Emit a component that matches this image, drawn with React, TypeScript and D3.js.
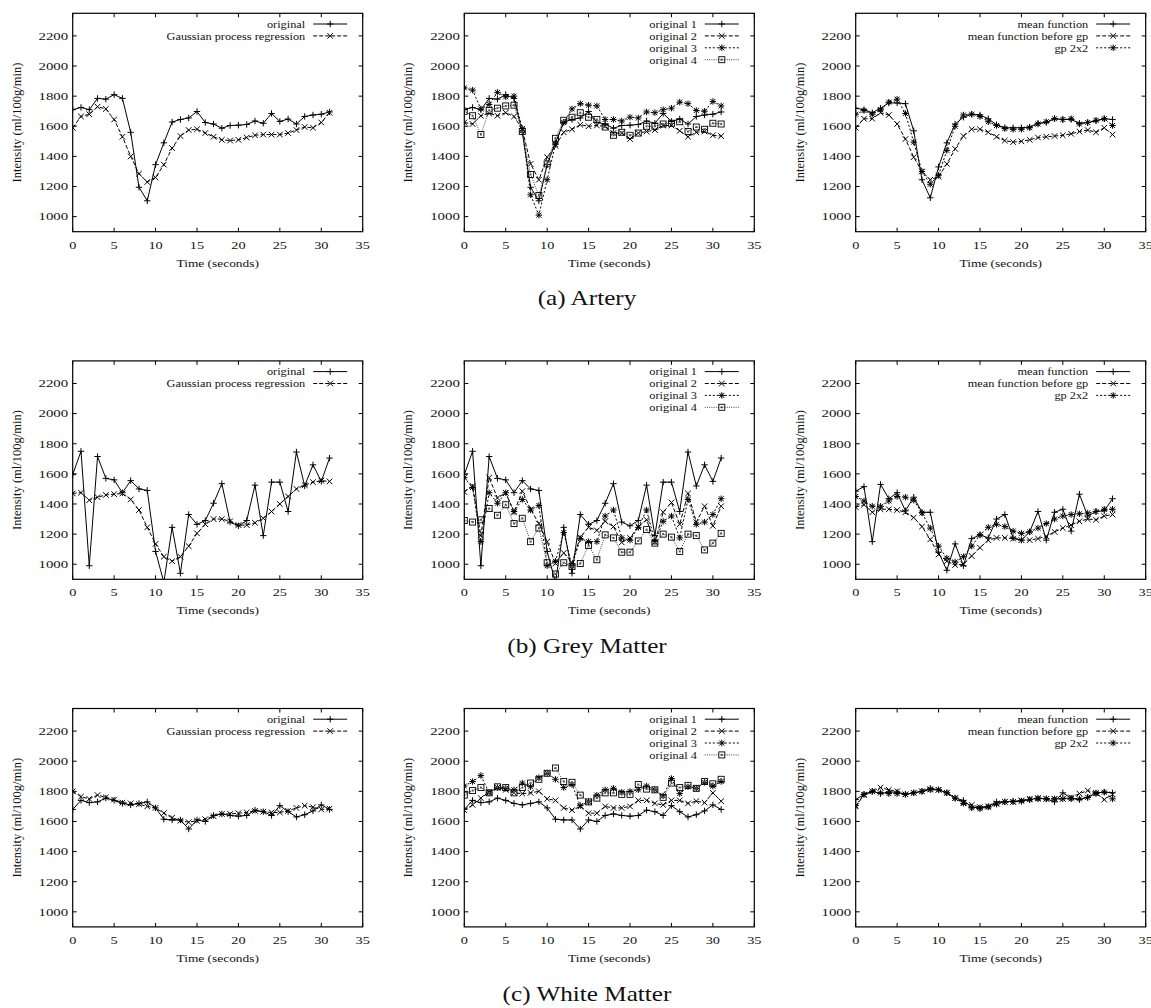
import * as d3 from "d3";

// seconds
const time = [0, 1, 2, 3, 4, 5, 6, 7, 8, 9, 10, 11, 12, 13, 14, 15, 16, 17, 18, 19, 20, 21, 22, 23, 24, 25, 26, 27, 28, 29, 30, 31];
const xTicks = [0, 5, 10, 15, 20, 25, 30, 35];
const yTicks = [1000, 1200, 1400, 1600, 1800, 2000, 2200];

// (a) artery
const arteryOriginal = [1710, 1725, 1710, 1785, 1780, 1810, 1785, 1560, 1195, 1105, 1345, 1490, 1628, 1645, 1655, 1698, 1625, 1615, 1587, 1605, 1607, 1612, 1635, 1620, 1685, 1632, 1648, 1615, 1665, 1675, 1680, 1695];
const arteryGpr = [1590, 1665, 1680, 1730, 1715, 1645, 1530, 1400, 1285, 1230, 1260, 1345, 1455, 1535, 1575, 1580, 1555, 1530, 1510, 1505, 1510, 1525, 1540, 1545, 1545, 1545, 1555, 1575, 1595, 1590, 1625, 1690];
const arteryOriginal2 = [1625, 1615, 1670, 1685, 1670, 1690, 1665, 1580, 1350, 1245, 1395, 1470, 1560, 1580, 1610, 1600, 1605, 1600, 1555, 1555, 1515, 1555, 1565, 1575, 1605, 1605, 1570, 1530, 1560, 1565, 1540, 1535];
const arteryOriginal3 = [1855, 1840, 1715, 1745, 1825, 1795, 1800, 1585, 1145, 1010, 1245, 1480, 1625, 1715, 1750, 1740, 1735, 1645, 1645, 1635, 1660, 1655, 1695, 1690, 1710, 1720, 1760, 1750, 1705, 1700, 1765, 1735];
const arteryOriginal4 = [1700, 1670, 1545, 1705, 1720, 1735, 1740, 1565, 1280, 1140, 1350, 1520, 1640, 1660, 1690, 1660, 1645, 1595, 1540, 1560, 1540, 1555, 1600, 1600, 1615, 1620, 1630, 1565, 1595, 1580, 1620, 1615];
const arteryMean = [1720, 1710, 1690, 1720, 1755, 1755, 1750, 1570, 1245, 1125, 1330, 1490, 1615, 1660, 1680, 1675, 1650, 1610, 1590, 1590, 1590, 1595, 1620, 1625, 1650, 1645, 1645, 1620, 1625, 1635, 1650, 1645];
const arteryMeanBeforeGp = [1590, 1650, 1650, 1690, 1675, 1615, 1515, 1395, 1300, 1245, 1265, 1350, 1450, 1535, 1580, 1580, 1560, 1530, 1505, 1495, 1500, 1510, 1525, 1530, 1535, 1540, 1550, 1565, 1575, 1560, 1590, 1545];
const arteryGp2x2 = [1680, 1705, 1680, 1710, 1760, 1780, 1685, 1495, 1300, 1215, 1275, 1440, 1600, 1675, 1680, 1665, 1630, 1605, 1585, 1580, 1580, 1590, 1615, 1630, 1650, 1645, 1650, 1615, 1625, 1640, 1650, 1605];

// (b) grey matter
const greyOriginal = [1595, 1750, 990, 1715, 1570, 1560, 1475, 1555, 1500, 1490, 1085, 880, 1245, 940, 1330, 1265, 1290, 1405, 1535, 1280, 1255, 1290, 1525, 1190, 1545, 1545, 1350, 1745, 1520, 1660, 1550, 1705];
const greyGpr = [1470, 1475, 1425, 1445, 1460, 1465, 1470, 1430, 1360, 1245, 1135, 1050, 1020, 1050, 1120, 1205, 1265, 1300, 1300, 1285, 1260, 1260, 1275, 1305, 1350, 1400, 1450, 1500, 1525, 1545, 1555, 1550];
const greyOriginal2 = [1480, 1520, 1190, 1575, 1440, 1475, 1345, 1485, 1365, 1270, 1150, 1005, 1075, 1010, 1180, 1245, 1225, 1285, 1250, 1145, 1175, 1250, 1295, 1145, 1345, 1410, 1265, 1470, 1280, 1385, 1255, 1385];
const greyOriginal3 = [1575, 1510, 1150, 1475, 1405, 1475, 1350, 1430, 1360, 1390, 990, 1020, 1210, 990, 1170, 1150, 1150, 1320, 1360, 1175, 1160, 1245, 1360, 1150, 1285, 1320, 1175, 1430, 1265, 1280, 1330, 1435];
const greyOriginal4 = [1290, 1280, 1295, 1370, 1325, 1395, 1270, 1305, 1150, 1240, 1010, 935, 1010, 985, 1005, 1125, 1030, 1195, 1175, 1080, 1080, 1155, 1230, 1140, 1200, 1180, 1085, 1200, 1190, 1095, 1140, 1205];
const greyMean = [1485, 1515, 1150, 1530, 1435, 1475, 1355, 1445, 1345, 1345, 1080, 960, 1135, 990, 1170, 1195, 1175, 1300, 1330, 1175, 1160, 1215, 1350, 1160, 1345, 1365, 1220, 1465, 1320, 1350, 1355, 1435];
const greyMeanBeforeGp = [1380, 1395, 1345, 1365, 1365, 1360, 1345, 1310, 1250, 1165, 1065, 1020, 995, 1000, 1055, 1110, 1160, 1175, 1175, 1170, 1160, 1160, 1170, 1185, 1215, 1240, 1260, 1285, 1300, 1295, 1320, 1330];
const greyGp2x2 = [1450, 1420, 1385, 1385, 1420, 1450, 1445, 1425, 1340, 1240, 1120, 1040, 1015, 1050, 1120, 1195, 1245, 1265, 1250, 1220, 1205, 1215, 1240, 1270, 1300, 1320, 1330, 1335, 1340, 1350, 1365, 1365];

// (c) white matter
const whiteOriginal = [1680, 1740, 1725, 1730, 1755, 1740, 1720, 1710, 1720, 1730, 1690, 1615, 1610, 1610, 1550, 1610, 1600, 1640, 1650, 1640, 1635, 1640, 1675, 1665, 1640, 1705, 1665, 1630, 1645, 1670, 1710, 1680];
const whiteGpr = [1800, 1765, 1750, 1775, 1760, 1745, 1725, 1720, 1715, 1700, 1690, 1655, 1625, 1605, 1595, 1605, 1615, 1635, 1650, 1650, 1655, 1660, 1670, 1665, 1660, 1660, 1670, 1690, 1705, 1695, 1680, 1685];
const whiteOriginal2 = [1675, 1710, 1755, 1795, 1825, 1810, 1790, 1785, 1790, 1800, 1750, 1740, 1690, 1675, 1700, 1655, 1655, 1700, 1690, 1690, 1700, 1740, 1740, 1720, 1710, 1740, 1740, 1720, 1735, 1725, 1790, 1735];
const whiteOriginal3 = [1835, 1865, 1905, 1790, 1825, 1820, 1810, 1855, 1830, 1890, 1920, 1880, 1825, 1845, 1705, 1730, 1775, 1810, 1820, 1795, 1800, 1810, 1835, 1810, 1770, 1885, 1785, 1830, 1820, 1860, 1835, 1865];
const whiteOriginal4 = [1775, 1805, 1825, 1790, 1830, 1825, 1790, 1825, 1855, 1880, 1920, 1955, 1865, 1860, 1775, 1730, 1755, 1790, 1790, 1780, 1780, 1845, 1815, 1810, 1760, 1855, 1825, 1840, 1820, 1865, 1850, 1880];
const whiteMean = [1745, 1780, 1800, 1785, 1795, 1795, 1780, 1790, 1800, 1820, 1810, 1790, 1755, 1740, 1695, 1690, 1700, 1730, 1730, 1735, 1735, 1745, 1755, 1750, 1730, 1790, 1755, 1745, 1760, 1790, 1795, 1790];
const whiteMeanBeforeGp = [1700, 1775, 1800, 1825, 1810, 1800, 1780, 1790, 1800, 1815, 1810, 1790, 1755, 1725, 1710, 1695, 1700, 1720, 1730, 1730, 1740, 1750, 1755, 1750, 1750, 1750, 1760, 1785, 1805, 1790, 1745, 1780];
const whiteGp2x2 = [1705, 1780, 1800, 1790, 1785, 1785, 1780, 1790, 1800, 1810, 1810, 1790, 1755, 1720, 1690, 1685, 1695, 1715, 1730, 1730, 1735, 1745, 1750, 1750, 1750, 1750, 1750, 1750, 1760, 1785, 1795, 1750];

const captions = ["(a) Artery", "(b) Grey Matter", "(c) White Matter"];

// line styles in gnuplot order: solid +, dashed x, short dash *, dotted box
const STYLES = [
  { dash: "none", color: "#000", mark: "plus" },
  { dash: "4,2", color: "#000", mark: "cross" },
  { dash: "2,2", color: "#000", mark: "star" },
  { dash: "1,1.2", color: "#444", mark: "box" },
];

type S = { label: string; values: number[] };

const rows: S[][][] = [
  [
    [{ label: "original", values: arteryOriginal }, { label: "Gaussian process regression", values: arteryGpr }],
    [{ label: "original 1", values: arteryOriginal }, { label: "original 2", values: arteryOriginal2 }, { label: "original 3", values: arteryOriginal3 }, { label: "original 4", values: arteryOriginal4 }],
    [{ label: "mean function", values: arteryMean }, { label: "mean function before gp", values: arteryMeanBeforeGp }, { label: "gp 2x2", values: arteryGp2x2 }],
  ],
  [
    [{ label: "original", values: greyOriginal }, { label: "Gaussian process regression", values: greyGpr }],
    [{ label: "original 1", values: greyOriginal }, { label: "original 2", values: greyOriginal2 }, { label: "original 3", values: greyOriginal3 }, { label: "original 4", values: greyOriginal4 }],
    [{ label: "mean function", values: greyMean }, { label: "mean function before gp", values: greyMeanBeforeGp }, { label: "gp 2x2", values: greyGp2x2 }],
  ],
  [
    [{ label: "original", values: whiteOriginal }, { label: "Gaussian process regression", values: whiteGpr }],
    [{ label: "original 1", values: whiteOriginal }, { label: "original 2", values: whiteOriginal2 }, { label: "original 3", values: whiteOriginal3 }, { label: "original 4", values: whiteOriginal4 }],
    [{ label: "mean function", values: whiteMean }, { label: "mean function before gp", values: whiteMeanBeforeGp }, { label: "gp 2x2", values: whiteGp2x2 }],
  ],
];

const W = 1151;
const H = 1008;
const PW = 290;
const PH = 218.4;
const LEFTS = [72.7, 464.3, 855.7];
const TOP0 = 13.3;
const ROW_STEP = 347.6;
const FONT = "'Liberation Serif', 'Times New Roman', serif";

const Txt = ({ x, y, anchor = "start", size = 11, sx = 1.2, children }: any) => (
  <text
    transform={`translate(${x},${y}) scale(${sx},1)`}
    textAnchor={anchor}
    fontSize={size}
    fontFamily={FONT}
    fill="#111"
  >
    {children}
  </text>
);

const Marker = ({ kind, x, y, color }: any) => {
  const r = 3.2;
  if (kind === "plus")
    return <path d={`M${x - r},${y}H${x + r}M${x},${y - r}V${y + r}`} stroke={color} strokeWidth={1} fill="none" />;
  if (kind === "cross")
    return <path d={`M${x - 2.8},${y - 2.8}L${x + 2.8},${y + 2.8}M${x - 2.8},${y + 2.8}L${x + 2.8},${y - 2.8}`} stroke={color} strokeWidth={1} fill="none" />;
  if (kind === "star")
    return (
      <path
        d={`M${x - r},${y}H${x + r}M${x},${y - r}V${y + r}M${x - 2.5},${y - 2.5}L${x + 2.5},${y + 2.5}M${x - 2.5},${y + 2.5}L${x + 2.5},${y - 2.5}`}
        stroke={color}
        strokeWidth={1}
        fill="none"
      />
    );
  return (
    <g>
      <rect x={x - 3} y={y - 3} width={6} height={6} fill="none" stroke="#000" strokeWidth={0.9} />
      <rect x={x - 1} y={y - 1} width={2} height={2} fill="#555" />
    </g>
  );
};

const Panel = ({ left, top, series, id }: { left: number; top: number; series: S[]; id: string }) => {
  const x = d3.scaleLinear().domain([0, 35]).range([0, PW]);
  const y = d3.scaleLinear().domain([900, 2350]).range([PH, 0]);
  const line = d3
    .line<number>()
    .x((_, i) => x(time[i]))
    .y((d) => y(d));

  return (
    <g transform={`translate(${left},${top})`}>
      <clipPath id={id}>
        <rect x={0} y={0} width={PW} height={PH} />
      </clipPath>
      {/* ticks, mirrored on all sides */}
      {xTicks.map((t) => (
        <g key={"x" + t}>
          <line x1={x(t)} x2={x(t)} y1={PH} y2={PH - 4} stroke="#000" />
          <line x1={x(t)} x2={x(t)} y1={0} y2={4} stroke="#000" />
          <Txt x={x(t)} y={PH + 17} anchor="middle" sx={1.3}>{t}</Txt>
        </g>
      ))}
      {yTicks.map((t) => (
        <g key={"y" + t}>
          <line x1={0} x2={4} y1={y(t)} y2={y(t)} stroke="#000" />
          <line x1={PW} x2={PW - 4} y1={y(t)} y2={y(t)} stroke="#000" />
          <Txt x={-4.5} y={y(t) + 3.8} anchor="end" sx={1.35}>{t}</Txt>
        </g>
      ))}
      <Txt x={PW / 2} y={PH + 35} anchor="middle" sx={1.22}>Time (seconds)</Txt>
      <text
        transform={`translate(-52,${PH / 2}) rotate(-90)`}
        textAnchor="middle"
        fontSize={12.5}
        fontFamily={FONT}
        fill="#111"
      >
        Intensity (ml/100g/min)
      </text>

      <g clipPath={`url(#${id})`}>
        {series.map((s, i) => (
          <g key={s.label}>
            <path d={line(s.values) || ""} fill="none" stroke={STYLES[i].color} strokeWidth={1} strokeDasharray={STYLES[i].dash} />
            {s.values.map((v, j) => (
              <Marker key={j} kind={STYLES[i].mark} x={x(time[j])} y={y(v)} color={STYLES[i].color} />
            ))}
          </g>
        ))}
      </g>

      {/* legend */}
      {series.map((s, i) => {
        const ly = 10.7 + i * 11.9;
        return (
          <g key={"lg" + i}>
            <Txt x={PW - 57.5} y={ly + 3.8} anchor="end" sx={1.12}>{s.label}</Txt>
            <line x1={PW - 49.5} x2={PW - 15.5} y1={ly} y2={ly} stroke={STYLES[i].color} strokeDasharray={STYLES[i].dash} />
            <Marker kind={STYLES[i].mark} x={PW - 32.5} y={ly} color={STYLES[i].color} />
          </g>
        );
      })}

      <rect x={0} y={0} width={PW} height={PH} fill="none" stroke="#000" strokeWidth={1.2} />
    </g>
  );
};

export default function App() {
  return (
    <svg
      width={W}
      height={H}
      style={{ position: "absolute", left: 0, top: 0, background: "#fff" }}
    >
      {rows.map((row, r) =>
        row.map((series, c) => (
          <Panel key={`${r}-${c}`} id={`clip-${r}-${c}`} left={LEFTS[c]} top={TOP0 + r * ROW_STEP} series={series} />
        ))
      )}
      {captions.map((cap, r) => (
        <Txt key={cap} x={587} y={TOP0 + r * ROW_STEP + 292} anchor="middle" size={20} sx={1.26}>
          {cap}
        </Txt>
      ))}
    </svg>
  );
}
